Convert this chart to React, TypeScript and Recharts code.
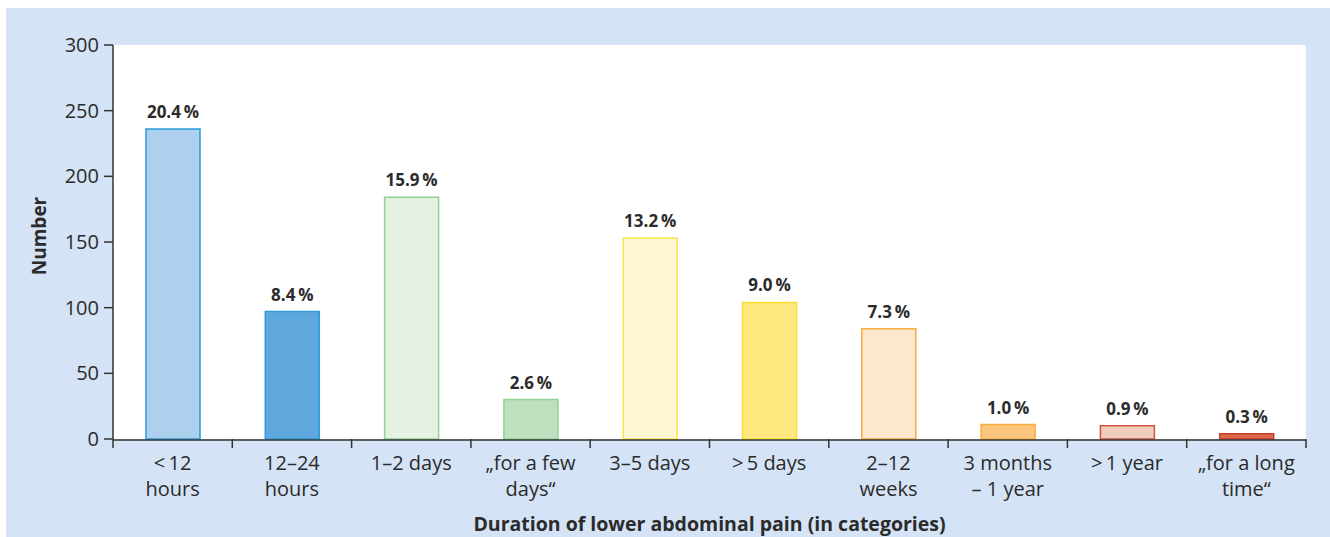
import React from 'react';
import { BarChart, Bar, XAxis, YAxis, CartesianGrid, Cell, LabelList, Label } from 'recharts';

const categories = [
  '<\u200912\nhours',
  '12–24\nhours',
  '1–2 days',
  '„for a few\ndays“',
  '3–5 days',
  '>\u20095 days',
  '2–12\nweeks',
  '3 months\n– 1 year',
  '>\u20091 year',
  '„for a long\ntime“',
];
const counts = [236, 97, 184, 30, 153, 104, 84, 11, 10, 4];
const percents = [20.4, 8.4, 15.9, 2.6, 13.2, 9.0, 7.3, 1.0, 0.9, 0.3];
const yTicks = [0, 50, 100, 150, 200, 250, 300];
const boundaryTicks = [0, 1, 2, 3, 4, 5, 6, 7, 8, 9, 10];

// bar colours (fill / outline)
const fills = ['#acd0ee', '#5ea8dd', '#e4f1e3', '#bde1be', '#fdf6d2', '#fee87f', '#fde7cf', '#fdc67e', '#f1cdbd', '#dd6a4d'];
const strokes = ['#2b9ad9', '#2b9ad9', '#92d095', '#92d095', '#fde34c', '#fedd2a', '#f9ac3e', '#f9ac3e', '#d2513f', '#c93d2b'];

const data = categories.map((c, i) => ({ name: c, idx: i, count: counts[i], pct: percents[i] }));

const FONT = '"Open Sans", "Noto Sans", sans-serif';
const TEXT = '#2b2b2b';
const AXIS = '#333';

const CategoryTick = (props: any) => {
  const { x, y, payload } = props;
  const lines = String(payload.value).split('\n');
  return (
    <text x={x} y={y + 22} textAnchor="middle" fill={TEXT} fontSize={20} fontFamily={FONT}>
      {lines.map((l, i) => (
        <tspan key={i} x={x} dy={i === 0 ? 0 : 26}>
          {l}
        </tspan>
      ))}
    </text>
  );
};

const EmptyTick = () => null;

const NumberLabel = (props: any) => {
  const { viewBox } = props;
  const cx = viewBox.x + 19;
  const cy = viewBox.y + viewBox.height / 2 - 6;
  return (
    <text
      x={cx}
      y={cy}
      transform={`rotate(-90, ${cx}, ${cy})`}
      textAnchor="middle"
      dominantBaseline="central"
      fill={TEXT}
      fontSize={19}
      fontWeight="bold"
      fontFamily={FONT}
    >
      Number
    </text>
  );
};

export default function App() {
  return (
    <div style={{ position: 'absolute', left: 0, top: 0, width: 1330, height: 537, background: '#fff' }}>
      <div style={{ position: 'absolute', left: 6, top: 8, width: 1324, height: 529, background: '#d4e3f5' }} />
      <div style={{ position: 'absolute', left: 0, top: 0 }}>
        <BarChart
          width={1330}
          height={537}
          data={data}
          margin={{ top: 45, right: 24, bottom: 0, left: 20 }}
          barSize={54}
        >
          <CartesianGrid xAxisId="cat" fill="#fff" horizontal={false} vertical={false} />
          <XAxis
            xAxisId="bnd"
            type="number"
            dataKey="idx"
            domain={[0, 10]}
            allowDataOverflow
            ticks={boundaryTicks}
            tick={<EmptyTick />}
            tickSize={9}
            tickLine={{ stroke: AXIS, strokeWidth: 1.5 }}
            axisLine={false}
            height={1}
          />
          <XAxis
            xAxisId="cat"
            dataKey="name"
            interval={0}
            tickLine={false}
            axisLine={{ stroke: AXIS, strokeWidth: 1.5 }}
            tick={<CategoryTick />}
            height={97}
          >
            <Label
              value="Duration of lower abdominal pain (in categories)"
              position="insideBottom"
              offset={6}
              fill={TEXT}
              fontSize={19.5}
              fontWeight="bold"
              fontFamily={FONT}
            />
          </XAxis>
          <YAxis
            domain={[0, 300]}
            ticks={yTicks}
            width={93}
            tickSize={9}
            tickMargin={5}
            tickLine={{ stroke: AXIS, strokeWidth: 1.5 }}
            axisLine={{ stroke: AXIS, strokeWidth: 1.5 }}
            tick={{ fill: TEXT, fontSize: 20, fontFamily: FONT }}
          >
            <Label content={<NumberLabel />} />
          </YAxis>
          <Bar xAxisId="cat" dataKey="count" isAnimationActive={false} strokeWidth={1.5}>
            {data.map((d, i) => (
              <Cell key={d.name} fill={fills[i]} stroke={strokes[i]} />
            ))}
            <LabelList
              dataKey="pct"
              position="top"
              offset={11}
              formatter={(v: any) => `${Number(v).toFixed(1)}\u2009%`}
              fill={TEXT}
              fontSize={17}
              fontWeight="bold"
              fontFamily={FONT}
            />
          </Bar>
        </BarChart>
      </div>
    </div>
  );
}
